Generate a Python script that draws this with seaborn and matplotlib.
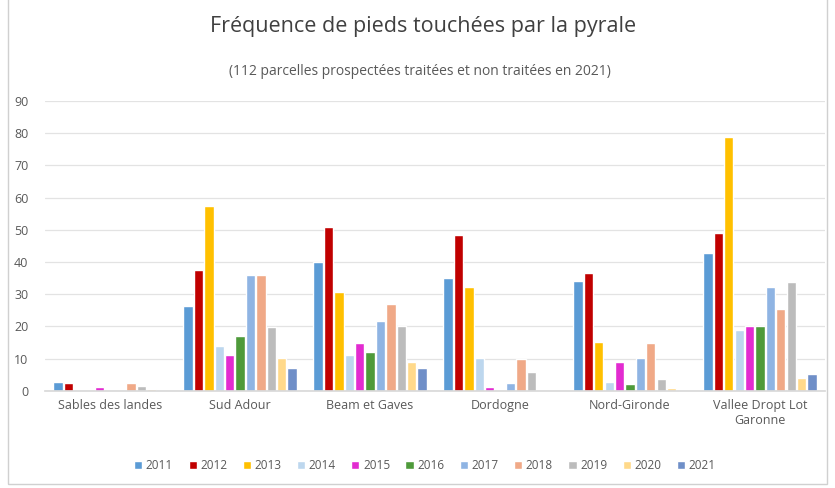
import matplotlib
matplotlib.use("Agg")
import matplotlib.pyplot as plt
import seaborn as sns
import pandas as pd
from matplotlib.patches import Rectangle

regions = ["Sables des landes", "Sud Adour", "Beam et Gaves", "Dordogne",
           "Nord-Gironde", "Vallee Dropt Lot\nGaronne"]
years = ["2011", "2012", "2013", "2014", "2015", "2016", "2017", "2018", "2019", "2020", "2021"]

v2011 = [2.8, 26.4, 40.1, 35.2, 34.1, 42.7]
v2012 = [2.5, 37.5, 50.8, 48.4, 36.5, 49.1]
v2013 = [0.0, 57.5, 30.6, 32.2, 15.3, 78.7]
v2014 = [0.0, 13.8, 11.0, 10.1, 2.9, 18.9]
v2015 = [1.2, 11.0, 15.0, 1.3, 9.1, 20.0]
v2016 = [0.0, 17.0, 12.2, 0.0, 2.0, 20.0]
v2017 = [0.0, 35.9, 21.8, 2.4, 10.1, 32.2]
v2018 = [2.5, 36.0, 26.9, 9.8, 14.8, 25.4]
v2019 = [1.5, 19.8, 20.0, 6.0, 3.7, 33.9]
v2020 = [0.5, 10.1, 9.1, 0.0, 0.8, 3.9]
v2021 = [0.0, 7.0, 7.0, 0.0, 0.0, 5.3]

series = [v2011, v2012, v2013, v2014, v2015, v2016, v2017, v2018, v2019, v2020, v2021]
colors = ["#5B9BD5", "#C00000", "#FFC000", "#BDD7EE", "#E22BD0", "#4E9A3A",
          "#8FB4E3", "#F0A987", "#BCBCBC", "#FFD98A", "#6F8FC8"]

rows = []
for y, vals in zip(years, series):
    for r, v in zip(regions, vals):
        rows.append({"region": r, "year": y, "value": v})
df = pd.DataFrame(rows)

sns.set_theme(style="white")
plt.rcParams["font.family"] = ["Open Sans", "DejaVu Sans"]

fig = plt.figure(figsize=(8.35, 4.88), dpi=100)
ax = fig.add_axes([0.054, 0.199, 0.934, 0.594])

sns.barplot(data=df, x="region", y="value", hue="year", order=regions,
            hue_order=years, palette=colors, width=0.88, gap=0.1,
            ax=ax, saturation=1, legend=True)

ax.set_ylim(0, 90)
ax.set_yticks(range(0, 91, 10))
ax.yaxis.grid(True, color="#E3E3E3", linewidth=0.9)
ax.set_axisbelow(True)
for s in ["top", "right", "left"]:
    ax.spines[s].set_visible(False)
ax.spines["bottom"].set_color("#D9D9D9")
ax.set_xlabel("")
ax.set_ylabel("")
ax.tick_params(axis="both", length=0, labelsize=9, colors="#595959", pad=6)
ax.tick_params(axis="y", pad=12)

leg = ax.legend(loc="upper center", bbox_to_anchor=(0.487, -0.2), ncol=11,
                frameon=False, fontsize=8.5, handlelength=0.7, handleheight=0.7,
                handletextpad=0.3, columnspacing=1.3)
for t in leg.get_texts():
    t.set_color("#595959")

fig.text(0.507, 0.945, "Fréquence de pieds touchées par la pyrale", ha="center",
         va="center", fontsize=15.5, color="#404040")
fig.text(0.503, 0.853, "(112 parcelles prospectées traitées et non traitées en 2021)",
         ha="center", va="center", fontsize=10, color="#595959")

fig.patches.append(Rectangle((0.009, 0.008), 0.982, 1.2, transform=fig.transFigure,
                             fill=False, edgecolor="#D0D0D0", linewidth=1))

fig.savefig("out.png", dpi=100)
